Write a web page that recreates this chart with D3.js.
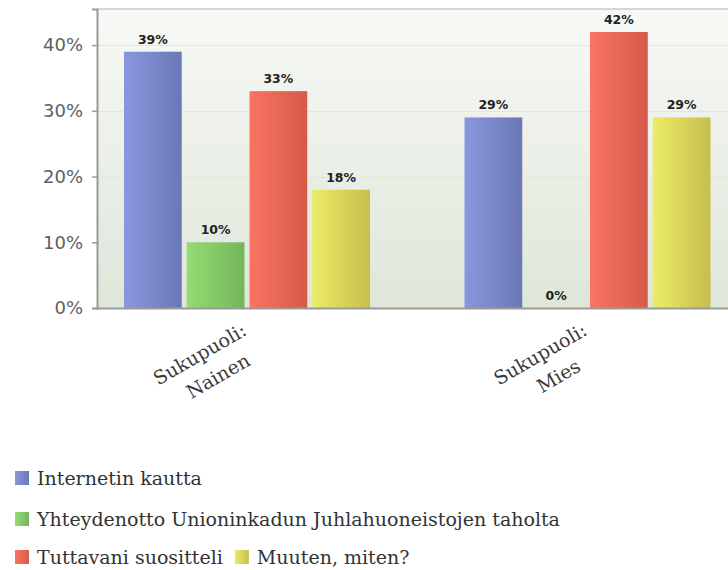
<!DOCTYPE html>
<html>
<head>
<meta charset="utf-8">
<script src="https://cdn.jsdelivr.net/npm/d3@7/dist/d3.min.js"></script>
<style>
  html, body { margin: 0; padding: 0; background: #fff; }
  svg { display: block; }
</style>
</head>
<body>
<svg id="chart" width="728" height="570"></svg>
<script>
// Survey answers by gender (percent)
const groups = [["Sukupuoli:", "Nainen"], ["Sukupuoli:", "Mies"]];
const seriesNames = [
  "Internetin kautta",
  "Yhteydenotto Unioninkadun Juhlahuoneistojen taholta",
  "Tuttavani suositteli",
  "Muuten, miten?"
];
const naisetValues = [39, 10, 33, 18];
const miehetValues = [29, 0, 42, 29];
const yTicks = [0, 10, 20, 30, 40];

const values = [naisetValues, miehetValues];
const colorsLight = ["#8a97de", "#95dc74", "#fa7462", "#ecec66"];
const colorsDark = ["#6a78b6", "#74b65c", "#d65a4a", "#c6be4e"];

const svg = d3.select("#chart");
const defs = svg.append("defs");

const plot = { left: 97, right: 778, top: 9, bottom: 308 };

const y = d3.scaleLinear().domain([0, 45.5]).range([plot.bottom, plot.top]);
const x0 = d3.scaleBand().domain(d3.range(groups.length)).range([plot.left, plot.right]);
const x1 = d3.scaleBand().domain(d3.range(seriesNames.length))
  .range([27, 27 + 4 * 61.5]).paddingInner(0.08);
const groupMid = 27 + 2 * 61.5;

// plot background gradient
const bg = defs.append("linearGradient").attr("id", "bg")
  .attr("x1", 0).attr("y1", 0).attr("x2", 0).attr("y2", 1);
bg.append("stop").attr("offset", "0%").attr("stop-color", "#f8f9f6");
bg.append("stop").attr("offset", "100%").attr("stop-color", "#dee6d9");

colorsLight.forEach((c, i) => {
  const g = defs.append("linearGradient").attr("id", "bar" + i)
    .attr("x1", 0).attr("y1", 0).attr("x2", 1).attr("y2", 0);
  g.append("stop").attr("offset", "0%").attr("stop-color", c);
  g.append("stop").attr("offset", "100%").attr("stop-color", colorsDark[i]);
});

svg.append("rect")
  .attr("x", plot.left).attr("y", plot.top)
  .attr("width", plot.right - plot.left).attr("height", plot.bottom - plot.top)
  .attr("fill", "url(#bg)");

// gridlines
svg.append("g").selectAll("line").data(yTicks.filter(d => d > 0)).join("line")
  .attr("x1", plot.left).attr("x2", plot.right)
  .attr("y1", d => Math.round(y(d)) + 0.5).attr("y2", d => Math.round(y(d)) + 0.5)
  .attr("stroke", "#e2e5e0").attr("stroke-width", 1);

// top border
svg.append("line")
  .attr("x1", plot.left).attr("x2", plot.right)
  .attr("y1", plot.top).attr("y2", plot.top)
  .attr("stroke", "#c8c8c8").attr("stroke-width", 1.5);

// bars
const gGroups = svg.append("g").selectAll("g").data(values).join("g")
  .attr("transform", (d, i) => `translate(${x0(i)},0)`);

gGroups.selectAll("rect").data(d => d).join("rect")
  .attr("x", (d, i) => x1(i))
  .attr("width", x1.bandwidth())
  .attr("y", d => y(d))
  .attr("height", d => y(0) - y(d))
  .attr("fill", (d, i) => `url(#bar${i})`);

gGroups.selectAll("text").data(d => d).join("text")
  .attr("x", (d, i) => x1(i) + x1.bandwidth() / 2)
  .attr("y", d => y(d) - 8)
  .attr("text-anchor", "middle")
  .attr("font-family", "DejaVu Sans, Verdana, sans-serif")
  .attr("font-size", 12.5)
  .attr("font-weight", "bold")
  .attr("fill", "#222")
  .text(d => d + "%");

// y axis
const yAxis = d3.axisLeft(y).tickValues(yTicks).tickFormat(d => d + "%").tickSize(5).tickPadding(9);
const ya = svg.append("g").attr("transform", `translate(${plot.left},0)`).call(yAxis);
ya.select(".domain").attr("stroke", "#9a9a9a").attr("stroke-width", 2);
ya.selectAll(".tick line").attr("stroke", "#9a9a9a").attr("stroke-width", 1.5);
ya.selectAll(".tick text")
  .attr("font-family", "DejaVu Sans, Verdana, sans-serif")
  .attr("font-size", 18)
  .attr("fill", "#606060");

// x axis baseline
svg.append("line")
  .attr("x1", plot.left - 1).attr("x2", plot.right)
  .attr("y1", plot.bottom + 0.5).attr("y2", plot.bottom + 0.5)
  .attr("stroke", "#9a9a9a").attr("stroke-width", 2);

// category labels, rotated, two centred lines
const catG = svg.append("g").selectAll("g").data(groups).join("g")
  .attr("transform", (d, i) => `translate(${x0(i) + groupMid - 44},360) rotate(-30)`);
catG.selectAll("text").data(d => d).join("text")
  .attr("x", (d, i) => i === 0 ? 0 : 5)
  .attr("y", (d, i) => i * 28)
  .attr("text-anchor", "middle")
  .attr("font-family", "DejaVu Serif, Georgia, serif")
  .attr("font-size", 19)
  .attr("fill", "#3a3a3a")
  .text(d => d);

// legend: rows of series indices, items laid out left to right
const legendRows = [[0], [1], [2, 3]];
const rowY = [478, 519, 557];
legendRows.forEach((row, r) => {
  let xPos = 15;
  row.forEach(i => {
    const g = svg.append("g").attr("transform", `translate(${xPos},${rowY[r]})`);
    g.append("rect")
      .attr("x", 0).attr("y", -7).attr("width", 14).attr("height", 14)
      .attr("fill", `url(#bar${i})`);
    const t = g.append("text")
      .attr("x", 22).attr("y", 0).attr("dy", "0.36em")
      .attr("font-family", "DejaVu Serif, Georgia, serif")
      .attr("font-size", 19)
      .attr("fill", "#333")
      .text(seriesNames[i]);
    xPos += 22 + t.node().getComputedTextLength() + 12;
  });
});
</script>
</body>
</html>
